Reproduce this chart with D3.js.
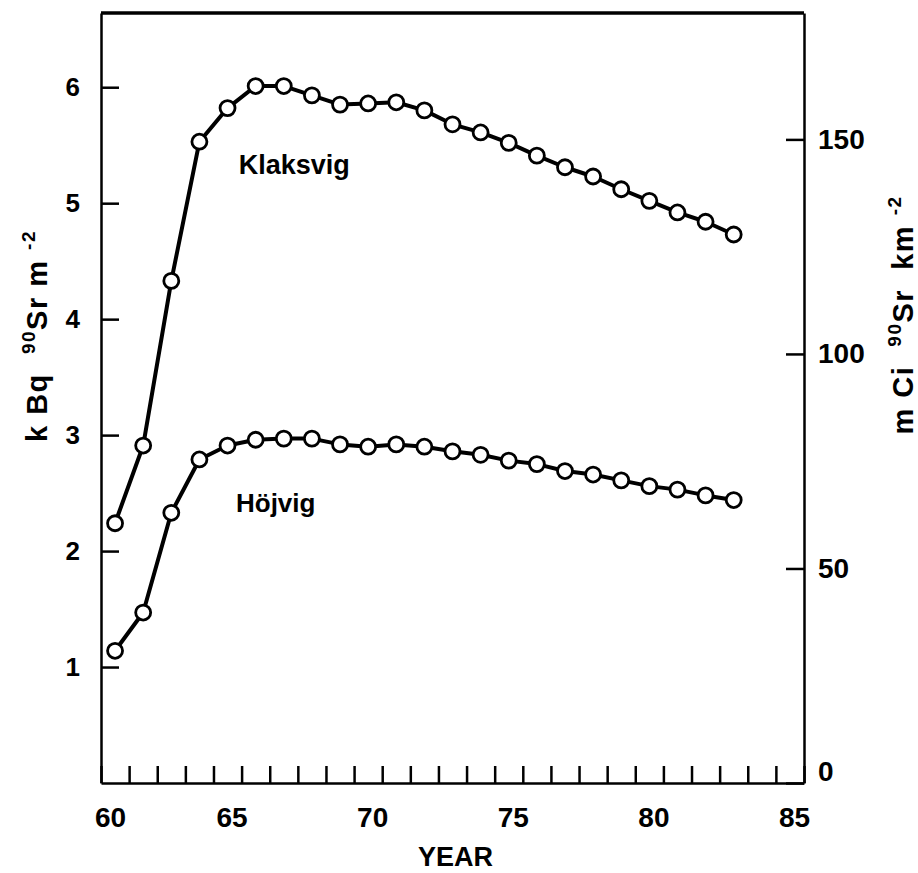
<!DOCTYPE html>
<html>
<head>
<meta charset="utf-8">
<script src="https://cdn.jsdelivr.net/npm/d3@7"></script>
<style>
  body { margin: 0; background: #fff; }
  svg text { font-family: "Liberation Sans", Arial, sans-serif; font-weight: bold; fill: #000; }
</style>
</head>
<body>
<script>

// data (kBq 90Sr per m2, mid-year points)
let years = [60.5, 61.5, 62.5, 63.5, 64.5, 65.5, 66.5, 67.5, 68.5, 69.5, 70.5, 71.5,
             72.5, 73.5, 74.5, 75.5, 76.5, 77.5, 78.5, 79.5, 80.5, 81.5, 82.5];

let klaksvig = [2.24, 2.91, 4.33, 5.53, 5.82, 6.01, 6.01, 5.93, 5.85, 5.86, 5.87, 5.80,
                5.68, 5.61, 5.52, 5.41, 5.31, 5.23, 5.12, 5.02, 4.92, 4.84, 4.73];

let hojvig = [1.14, 1.47, 2.33, 2.79, 2.91, 2.96, 2.97, 2.97, 2.92, 2.90, 2.92, 2.90,
              2.86, 2.83, 2.78, 2.75, 2.69, 2.66, 2.61, 2.56, 2.53, 2.48, 2.44];

let seriesNames = ['Klaksvig', 'Höjvig'];

let yearLabels = [60, 65, 70, 75, 80, 85];
let leftTicks = [1, 2, 3, 4, 5, 6];
let rightTicks = [0, 50, 100, 150];

// 1 mCi km-2 = 0.037 kBq m-2
let mCiToKBq = 0.037;


let width = 918,
    height = 873;

let svg = d3.select('body').append('svg')
    .attr('width', width)
    .attr('height', height);

let plot = {left: 101, right: 804, top: 13, bottom: 783};

let xScale = d3.scaleLinear()
    .domain([60, 85])
    .range([plot.left, plot.right]);

let yScale = d3.scaleLinear()
    .domain([0, 6.64])
    .range([plot.bottom, plot.top]);

let yRightScale = d3.scaleLinear()
    .domain([0, 6.64 / mCiToKBq])
    .range([plot.bottom, plot.top]);


//axes

let xAxis = d3.axisBottom(xScale)
    .tickValues(d3.range(60, 86))
    .tickFormat(d => yearLabels.includes(d) ? d : '')
    .tickSizeInner(-17)
    .tickSizeOuter(0)
    .tickPadding(24);

let gx = svg.append('g')
    .attr('transform', `translate(0,${plot.bottom})`)
    .call(xAxis);

gx.selectAll('text')
    .attr('font-size', '28px')
    .attr('dx', d => d === 60 ? 9 : -10);

let yAxis = d3.axisLeft(yScale)
    .tickValues(leftTicks)
    .tickFormat(d3.format('d'))
    .tickSizeInner(-18)
    .tickSizeOuter(0)
    .tickPadding(21);

let gy = svg.append('g')
    .attr('transform', `translate(${plot.left},0)`)
    .call(yAxis);

gy.selectAll('text')
    .attr('font-size', '26px');

let yRightAxis = d3.axisRight(yRightScale)
    .tickValues(rightTicks)
    .tickSizeInner(-18)
    .tickSizeOuter(0)
    .tickPadding(14);

let gyr = svg.append('g')
    .attr('transform', `translate(${plot.right},0)`)
    .call(yRightAxis);

gyr.selectAll('text')
    .attr('font-size', '28px')
    .attr('dy', d => d === 0 ? '-0.1em' : '0.32em');

[gx, gy, gyr].forEach(g => {
    g.attr('font-family', null).attr('font-size', null);
    g.select('.domain').attr('stroke-width', 2.5);
    g.selectAll('.tick line').attr('stroke-width', 2.5);
});

// top edge of the frame
svg.append('line')
    .attr('x1', plot.left)
    .attr('x2', plot.right)
    .attr('y1', plot.top)
    .attr('y2', plot.top)
    .attr('stroke', 'black')
    .attr('stroke-width', 3.5);


// axis titles

let leftTitle = svg.append('text')
    .attr('transform', `translate(47,${336}) rotate(-90)`)
    .attr('text-anchor', 'middle')
    .attr('font-size', '29px')
    .style('letter-spacing', '1.5px')
    .style('white-space', 'pre');
leftTitle.append('tspan').text('k Bq  ');
leftTitle.append('tspan').text('90').attr('font-size', '19px').attr('dy', -12);
leftTitle.append('tspan').text('Sr m ').attr('dy', 12);
leftTitle.append('tspan').text('-2').attr('font-size', '19px').attr('dy', -12);

let rightTitle = svg.append('text')
    .attr('transform', `translate(913,${315}) rotate(-90)`)
    .attr('text-anchor', 'middle')
    .attr('font-size', '29px')
    .style('letter-spacing', '1.5px')
    .style('white-space', 'pre');
rightTitle.append('tspan').text('m Ci  ');
rightTitle.append('tspan').text('90').attr('font-size', '19px').attr('dy', -12);
rightTitle.append('tspan').text('Sr  km ').attr('dy', 12);
rightTitle.append('tspan').text('-2').attr('font-size', '19px').attr('dy', -12);

svg.append('text')
    .attr('x', (xScale(70) + xScale(75)) / 2 + 3)
    .attr('y', 866)
    .attr('text-anchor', 'middle')
    .attr('font-size', '27px')
    .text('YEAR');


// series

let series = [
    {name: seriesNames[0], values: klaksvig, labelAt: [64.9, 5.25], labelSize: 27},
    {name: seriesNames[1], values: hojvig, labelAt: [64.8, 2.34], labelSize: 26}
];

let line = d3.line()
    .x(d => xScale(d[0]))
    .y(d => yScale(d[1]));

series.forEach(s => {
    let pts = years.map((yr, i) => [yr, s.values[i]]);

    svg.append('path')
        .datum(pts)
        .attr('d', line)
        .attr('fill', 'none')
        .attr('stroke', 'black')
        .attr('stroke-width', 4)
        .attr('stroke-linejoin', 'round');

    svg.selectAll(null)
        .data(pts)
        .enter().append('circle')
        .attr('cx', d => xScale(d[0]))
        .attr('cy', d => yScale(d[1]))
        .attr('r', 7.5)
        .attr('fill', 'white')
        .attr('stroke', 'black')
        .attr('stroke-width', 2.8);

    svg.append('text')
        .attr('x', xScale(s.labelAt[0]))
        .attr('y', yScale(s.labelAt[1]))
        .attr('font-size', s.labelSize + 'px')
        .text(s.name);
});

</script>
</body>
</html>
